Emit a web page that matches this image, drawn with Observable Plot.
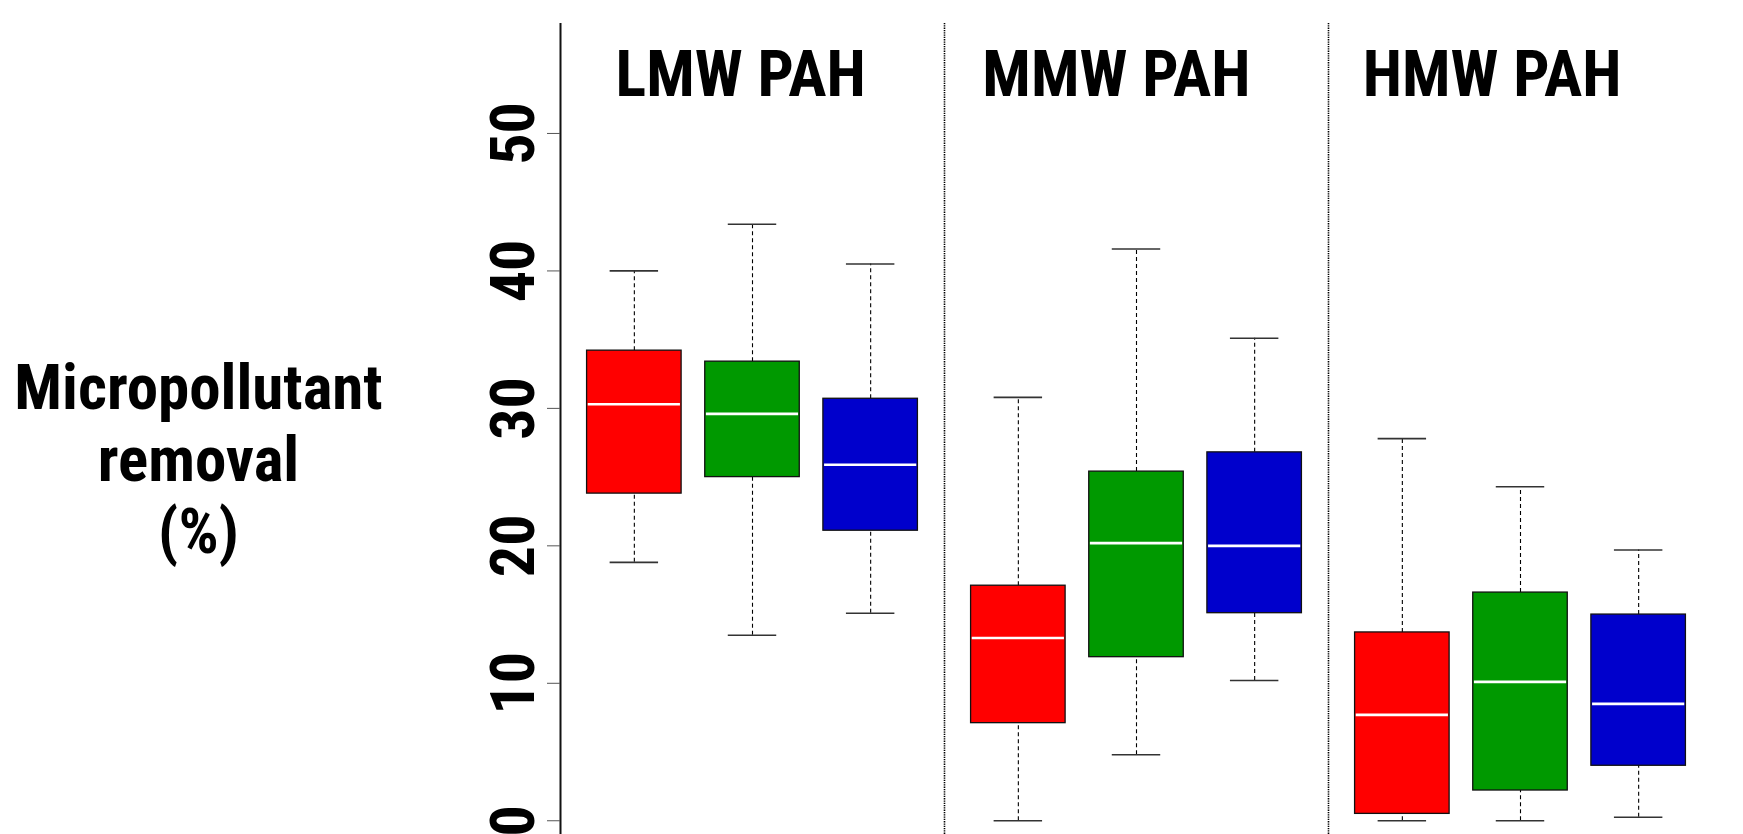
<!DOCTYPE html>
<html>
<head>
<meta charset="utf-8">
<script src="https://cdn.jsdelivr.net/npm/d3@7"></script>
<script src="https://cdn.jsdelivr.net/npm/@observablehq/plot@0.6"></script>
<style>
  html, body { margin: 0; padding: 0; background: #fff; overflow: hidden; }
  #chart svg { display: block; }
</style>
</head>
<body>
<div id="chart"></div>
<script>
// ---- data ----
const groups = ["LMW PAH", "MMW PAH", "HMW PAH"];
const series = ["Series 1", "Series 2", "Series 3"];
// order: for each group, the three series (red, green, blue)
const whiskerLow  = [18.8, 13.5, 15.1,  0.0,  4.8, 10.2,  0.0,  0.0,  0.25];
const q1          = [23.8, 25.0, 21.1,  7.1, 11.9, 15.1,  0.5,  2.2,  4.0];
const median      = [30.3, 29.6, 25.9, 13.3, 20.2, 20.0,  7.7, 10.1,  8.5];
const q3          = [34.2, 33.4, 30.7, 17.1, 25.4, 26.8, 13.7, 16.6, 15.0];
const whiskerHigh = [40.0, 43.4, 40.5, 30.8, 41.6, 35.1, 27.8, 24.3, 19.7];
const yTicks = [0, 10, 20, 30, 40, 50];
const yTitle = "Micropollutant\nremoval\n(%)";

// ---- layout helpers ----
const gap = 3.25;                     // width of one panel in x units
const pos = (g, s) => g * gap + s + 1;
const xMin = 0.375, xMax = groups.length * gap + 0.375;

const rows = [];
groups.forEach((g, gi) => series.forEach((s, si) => {
  const i = gi * series.length + si;
  rows.push({group: g, series: s, x: pos(gi, si),
    lo: whiskerLow[i], q1: q1[i], med: median[i], q3: q3[i], hi: whiskerHigh[i]});
}));

const font = "'Liberation Sans Narrow', 'Arial Narrow', 'Roboto Condensed', 'Liberation Sans', Arial, sans-serif";

const chart = Plot.plot({
  width: 1743,
  height: 834,
  marginLeft: 560,
  marginRight: 31,
  marginTop: 23,
  marginBottom: 0,
  style: {fontFamily: font, background: "#fff", overflow: "visible"},
  x: {domain: [xMin, xMax], axis: null},
  y: {domain: [-1, 58], axis: null},
  color: {domain: series, range: ["#ff0000", "#009900", "#0000cc"]},
  marks: [
    // panel separators
    Plot.ruleX(groups.slice(1).map((g, i) => (i + 1) * gap + xMin),
      {stroke: "#000", strokeWidth: 1.6, strokeDasharray: "1.3,1"}),
    // y axis line
    Plot.ruleX([xMin], {stroke: "#111", strokeWidth: 2}),
    Plot.axisY({ticks: yTicks, tickSize: 13, tickFormat: () => "", stroke: "#555", label: null}),
    Plot.text(yTicks, {
      y: d => d, text: d => String(d), frameAnchor: "left", rotate: -90,
      dx: -27, textAnchor: "middle", lineAnchor: "bottom",
      fontSize: 62, fontWeight: "bold", fill: "#000"
    }),
    // whiskers
    Plot.ruleX(rows, {x: "x", y1: "q3", y2: "hi", stroke: "#000", strokeWidth: 1.1, strokeDasharray: "4,3"}),
    Plot.ruleX(rows, {x: "x", y1: "lo", y2: "q1", stroke: "#000", strokeWidth: 1.1, strokeDasharray: "4,3"}),
    Plot.ruleY(rows, {y: "hi", x1: d => d.x - 0.205, x2: d => d.x + 0.205, stroke: "#333", strokeWidth: 1.6}),
    Plot.ruleY(rows, {y: "lo", x1: d => d.x - 0.205, x2: d => d.x + 0.205, stroke: "#333", strokeWidth: 1.6}),
    // boxes
    Plot.rect(rows, {x1: d => d.x - 0.4, x2: d => d.x + 0.4, y1: "q1", y2: "q3",
      fill: "series", stroke: "#111", strokeWidth: 1.3, inset: 0}),
    // medians
    Plot.ruleY(rows, {y: "med", x1: d => d.x - 0.39, x2: d => d.x + 0.39, stroke: "#fff", strokeWidth: 2.6}),
    // panel titles
    Plot.text(groups, {
      x: (d, i) => pos(i, 1) - [0.1, 0.17, 0.24][i], text: d => d,
      frameAnchor: "top", lineAnchor: "top", dy: 27,
      fontSize: 64, fontWeight: "bold", fill: "#000"
    }),
    // y title
    Plot.text([yTitle], {
      text: d => d, frameAnchor: "left", dx: -362, dy: 29,
      textAnchor: "middle", lineAnchor: "middle", lineHeight: 1.14,
      fontSize: 63, fontWeight: "bold", fill: "#000"
    })
  ]
});
document.getElementById("chart").appendChild(chart);
</script>
</body>
</html>
